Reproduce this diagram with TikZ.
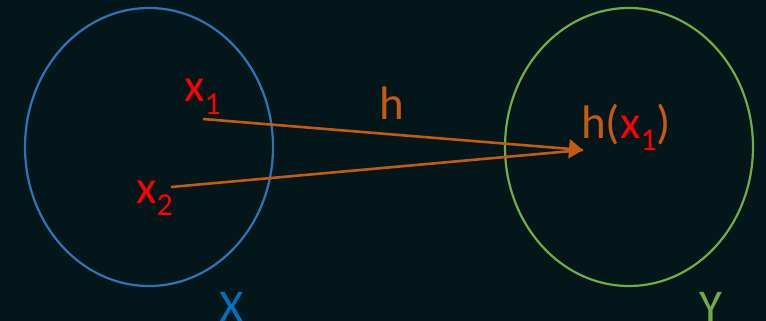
\documentclass[tikz,border=0pt]{standalone}
\usepackage{fontspec}
\setmainfont{Carlito}
\usetikzlibrary{arrows.meta,positioning,shapes.geometric}
\definecolor{darkbg}{RGB}{3,22,26}
\definecolor{setblue}{RGB}{46,117,182}
\definecolor{labblue}{RGB}{0,112,192}
\definecolor{setgreen}{RGB}{112,173,71}
\definecolor{maporange}{RGB}{197,90,17}
\definecolor{ptred}{RGB}{255,0,0}
\newcommand{\idx}[1]{\raisebox{-0.26em}{\fontsize{32}{32}\selectfont #1}}

\begin{document}
\begin{tikzpicture}[
  x=1pt,y=-1pt,
  font=\fontsize{47}{50}\selectfont,
  set/.style={draw,ellipse,line width=2.2pt,minimum width=248pt,minimum height=278pt,inner sep=0pt},
  lab/.style={inner sep=0pt,anchor=base west},
  arr/.style={draw=maporange,line width=2.6pt}
]
\useasboundingbox[fill=darkbg] (0,0) rectangle (766,321);
\node[set,draw=setblue] (X) at (149,147) {};
\node[set,draw=setgreen] (Y) at (629,147) {};
\node[lab,text=labblue] (xlab) at (219,322) {X};
\node[lab,text=setgreen] (ylab) at (699,322) {Y};
\node[lab,text=ptred] (x1) at (184,102) {x\idx{1}};
\node[lab,text=ptred] (x2) at (136,203) {x\idx{2}};
\node[lab,text=maporange] (h) at (379,119) {h};
\node[lab,text=maporange] (hx) at (581,138) {h(\textcolor{ptred}{x\idx{1}})};
\coordinate (p1) at (203,119);
\coordinate (p2) at (171,187);
\coordinate (hp) at (583,150);
\draw[arr,-{Triangle[length=14pt,width=19pt]}] (p1) -- (hp);
\draw[arr] (p2) -- (hp);
\end{tikzpicture}
\end{document}
